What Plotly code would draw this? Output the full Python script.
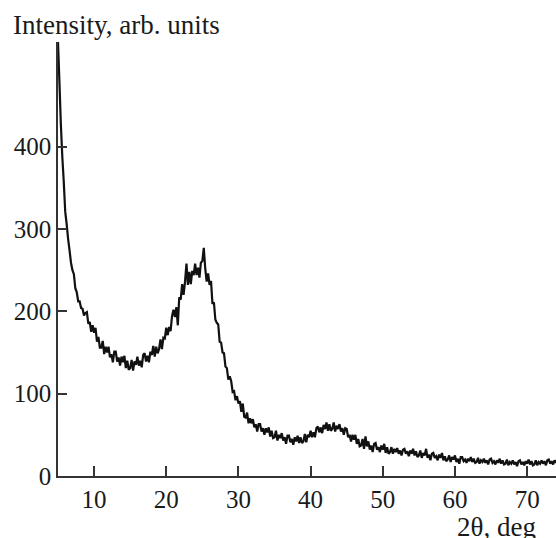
import numpy as np
import plotly.graph_objects as go

# 2-theta sampling grid (deg): start and step of the recorded scan
theta_start = 5.0
theta_step = 0.2

# Intensity (arb. units), one row per 2 degrees
intensity = [
    527, 478, 426, 387, 357, 321, 306, 288, 274, 259,
    250, 245, 228, 223, 212, 212, 204, 203, 195, 198,
    199, 185, 187, 175, 183, 174, 180, 163, 169, 156,
    156, 164, 148, 157, 150, 157, 144, 148, 138, 151,
    151, 139, 144, 134, 145, 138, 146, 131, 140, 129,
    131, 141, 128, 139, 135, 145, 134, 140, 132, 147,
    149, 139, 146, 138, 151, 147, 158, 145, 157, 149,
    154, 166, 154, 168, 167, 180, 171, 181, 176, 194,
    202, 193, 205, 183, 217, 214, 233, 220, 236, 258,
    232, 248, 233, 249, 244, 258, 244, 253, 241, 259,
    261, 277, 252, 236, 246, 232, 237, 209, 211, 190,
    186, 184, 163, 162, 150, 149, 133, 131, 117, 121,
    115, 102, 103, 92, 97, 88, 91, 78, 88, 72,
    71, 77, 64, 70, 64, 69, 59, 63, 54, 63,
    63, 54, 58, 50, 58, 53, 59, 48, 55, 46,
    47, 55, 43, 50, 46, 52, 43, 47, 39, 49,
    49, 41, 45, 38, 47, 42, 49, 40, 47, 40,
    42, 51, 41, 50, 47, 55, 47, 53, 47, 58,
    60, 53, 59, 52, 62, 57, 65, 55, 63, 55,
    57, 65, 54, 61, 57, 63, 54, 58, 50, 58,
    57, 47, 50, 42, 50, 44, 50, 39, 45, 36,
    37, 45, 33, 48, 36, 42, 32, 37, 29, 39,
    40, 32, 35, 29, 37, 32, 39, 28, 35, 27,
    29, 35, 27, 33, 29, 34, 27, 31, 25, 32,
    33, 27, 30, 24, 31, 27, 33, 25, 30, 23,
    25, 31, 22, 28, 25, 33, 22, 26, 19, 27,
    28, 22, 24, 19, 26, 22, 28, 19, 24, 18,
    20, 25, 17, 23, 20, 25, 17, 21, 15, 23,
    23, 18, 20, 16, 21, 18, 23, 17, 21, 16,
    17, 22, 15, 19, 17, 21, 16, 19, 14, 20,
    21, 16, 18, 14, 19, 16, 21, 15, 19, 14,
    15, 20, 13, 17, 15, 19, 14, 17, 12, 18,
    19, 14, 17, 13, 18, 15, 20, 14, 18, 13,
    14, 19, 13, 17, 15, 19, 15, 18, 13, 19,
    20, 15, 18, 14, 19, 16, 21, 15,
]

x_ticks = [10, 20, 30, 40, 50, 60, 70]
y_ticks = [0, 100, 200, 300, 400]

two_theta = np.round(theta_start + theta_step * np.arange(len(intensity)), 2)

FONT = "Liberation Serif, Times New Roman, serif"
AX = "#333333"
TXT = "#1a1a1a"

fig = go.Figure(
    go.Scatter(
        x=two_theta, y=intensity, mode="lines",
        line=dict(color="#111111", width=2.2, simplify=False),
        hoverinfo="skip",
    )
)

fig.update_layout(
    width=556, height=538,
    margin=dict(l=58, r=0, t=42, b=62),
    paper_bgcolor="white", plot_bgcolor="white",
    showlegend=False,
    font=dict(family=FONT, size=25, color=TXT),
    xaxis=dict(
        range=[5, 74], tickvals=x_ticks, ticks="inside", ticklen=10,
        tickwidth=1.5, tickcolor=AX, showline=True, linecolor=AX,
        linewidth=1.5, showgrid=False, zeroline=False,
        tickfont=dict(family=FONT, size=25, color=TXT),
    ),
    yaxis=dict(
        range=[0, 527], tickvals=y_ticks, ticks="inside", ticklen=9,
        tickwidth=1.5, tickcolor=AX, showline=True, linecolor=AX,
        linewidth=1.5, showgrid=False, zeroline=False,
        tickfont=dict(family=FONT, size=25, color=TXT),
    ),
    annotations=[
        dict(text="Intensity, arb. units", xref="paper", yref="paper",
             x=(11 - 58) / 498, y=(476 - 25) / 434, xanchor="left",
             yanchor="middle", showarrow=False,
             font=dict(family=FONT, size=27, color=TXT)),
        dict(text="2θ, deg", xref="paper", yref="paper",
             x=(538 - 58) / 498, y=(476 - 527) / 434, xanchor="right",
             yanchor="middle", showarrow=False,
             font=dict(family=FONT, size=27, color=TXT)),
    ],
)

fig.write_html("out.html")
